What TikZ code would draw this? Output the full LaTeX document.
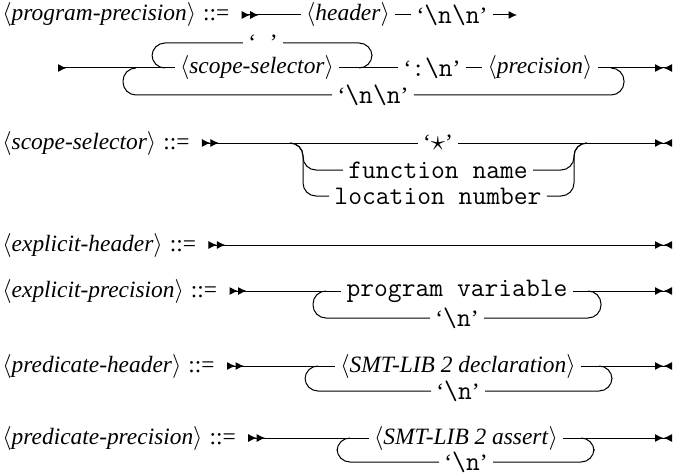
\documentclass[tikz,border=0pt]{standalone}
\usepackage{fontspec}
\setmainfont{Liberation Serif}
\usetikzlibrary{arrows.meta, positioning}

\newcommand{\railtt}{\fontsize{13.4}{16}\selectfont\ttfamily}
\newcommand{\nterm}[1]{$\langle$\textit{#1}$\rangle$}
\newcommand{\term}[1]{`{\railtt #1}'}
\newcommand{\defs}{\hspace{0.3em}::=}

\begin{document}
\begin{tikzpicture}[x=0.5pt, y=-0.5pt, font=\fontsize{11.7}{14}\selectfont]
\tikzstyle{lhs} = [anchor=west, inner sep=0pt]
\tikzstyle{sym} = [inner xsep=2.5pt, inner ysep=0pt]
\tikzstyle{word} = [sym, font=\railtt]
\tikzstyle{rail} = [draw, line width=0.5pt, rounded corners=6.5pt]
\tikzstyle{railin} = [rail, {Latex[reversed,length=4.25pt,width=4pt] Latex[reversed,length=4.25pt,width=4pt]}-]
\tikzstyle{railcont} = [rail, {Latex[reversed,length=4.25pt,width=4pt]}-]
\tikzstyle{railnext} = [rail, -{Latex[length=4.25pt,width=4pt]}]
\tikzstyle{railout} = [rail, -{Latex[length=4.25pt,width=4pt] Latex[reversed,length=4.25pt,width=4pt]}]
\tikzstyle{railthru} = [rail, {Latex[reversed,length=4.25pt,width=4pt] Latex[reversed,length=4.25pt,width=4pt]}-{Latex[length=4.25pt,width=4pt] Latex[reversed,length=4.25pt,width=4pt]}]

\useasboundingbox (0,0) rectangle (674,476);

% program-precision
\node [lhs] (pp) at (2,15) {\nterm{program-precision}\defs};
\coordinate [right=6pt of pp] (pp-in);
\node [sym] (hdr) at (348,15) {\nterm{header}};
\node [sym] (nn1) at (452,15) {\term{\textbackslash n\textbackslash n}};
\coordinate (pp-next) at (517,15);

\draw [railin] (pp-in) -- (hdr);
\draw [rail] (hdr) -- (nn1);
\draw [railnext] (nn1) -- (pp-next);

\coordinate (pp-cont) at (58,68);
\node [sym] (sp) at (263,43) {\term{\ }};
\node [sym] (ss) at (257,68) {\nterm{scope-selector}};
\node [sym] (cn) at (432,68) {\term{:\textbackslash n}};
\node [sym] (prec) at (540,68) {\nterm{precision}};
\node [sym] (nn2) at (373,95) {\term{\textbackslash n\textbackslash n}};
\coordinate (sp-l) at (152,68);
\coordinate (sp-r) at (372,68);
\coordinate (nn2-l) at (123,68);
\coordinate (nn2-r) at (624,68);
\coordinate (pp-out) at (672,68);

\draw [railcont] (pp-cont) -- (ss);
\draw [rail] (ss) -- (cn);
\draw [rail] (cn) -- (prec);
\draw [railout] (prec) -- (pp-out);
\draw [rail] ([xshift=6.5pt]sp-l) -- (sp-l) |- (sp);
\draw [rail] (sp) -| (sp-r) -- ([xshift=-6.5pt]sp-r);
\draw [rail] ([xshift=6.5pt]nn2-l) -- (nn2-l) |- (nn2);
\draw [rail] (nn2) -| (nn2-r) -- ([xshift=-6.5pt]nn2-r);

% scope-selector
\node [lhs] (ssr) at (2,143) {\nterm{scope-selector}\defs};
\coordinate [right=6pt of ssr] (ss-in);
\node [sym] (star) at (438,143) {\term{$\star$}};
\node [word] (fn) at (438,170) {function name};
\node [word] (loc) at (438,196) {location number};
\coordinate (alt-l) at (303,143);
\coordinate (alt-r) at (574,143);
\coordinate (ss-out) at (672,143);

\draw [railin] (ss-in) -- (star);
\draw [railout] (star) -- (ss-out);
\draw [rail] ([xshift=-6.5pt]alt-l) -- (alt-l) |- (fn);
\draw [rail] ([xshift=-6.5pt]alt-l) -- (alt-l) |- (loc);
\draw [rail] (fn) -| (alt-r) -- ([xshift=6.5pt]alt-r);
\draw [rail] (loc) -| (alt-r) -- ([xshift=6.5pt]alt-r);

% explicit-header
\node [lhs] (eh) at (2,245) {\nterm{explicit-header}\defs};
\coordinate [right=6pt of eh] (eh-in);
\coordinate (eh-out) at (672,245);

\draw [railthru] (eh-in) -- (eh-out);

% explicit-precision
\node [lhs] (ep) at (2,291) {\nterm{explicit-precision}\defs};
\coordinate [right=6pt of ep] (ep-in);
\node [word] (pv) at (457,291) {program variable};
\node [sym] (nl1) at (457,318) {\term{\textbackslash n}};
\coordinate (nl1-l) at (313,291);
\coordinate (nl1-r) at (601,291);
\coordinate (ep-out) at (672,291);

\draw [railin] (ep-in) -- (pv);
\draw [railout] (pv) -- (ep-out);
\draw [rail] ([xshift=6.5pt]nl1-l) -- (nl1-l) |- (nl1);
\draw [rail] (nl1) -| (nl1-r) -- ([xshift=-6.5pt]nl1-r);

% predicate-header
\node [lhs] (ph) at (2,366) {\nterm{predicate-header}\defs};
\coordinate [right=6pt of ph] (ph-in);
\node [sym] (decl) at (458,366) {\nterm{SMT-LIB 2 declaration}};
\node [sym] (nl2) at (458,391) {\term{\textbackslash n}};
\coordinate (nl2-l) at (305,366);
\coordinate (nl2-r) at (612,366);
\coordinate (ph-out) at (672,366);

\draw [railin] (ph-in) -- (decl);
\draw [railout] (decl) -- (ph-out);
\draw [rail] ([xshift=6.5pt]nl2-l) -- (nl2-l) |- (nl2);
\draw [rail] (nl2) -| (nl2-r) -- ([xshift=-6.5pt]nl2-r);

% predicate-precision
\node [lhs] (pr) at (2,438) {\nterm{predicate-precision}\defs};
\coordinate [right=6pt of pr] (pr-in);
\node [sym] (asrt) at (466,438) {\nterm{SMT-LIB 2 assert}};
\node [sym] (nl3) at (466,462) {\term{\textbackslash n}};
\coordinate (nl3-l) at (337,438);
\coordinate (nl3-r) at (594,438);
\coordinate (pr-out) at (672,438);

\draw [railin] (pr-in) -- (asrt);
\draw [railout] (asrt) -- (pr-out);
\draw [rail] ([xshift=6.5pt]nl3-l) -- (nl3-l) |- (nl3);
\draw [rail] (nl3) -| (nl3-r) -- ([xshift=-6.5pt]nl3-r);

\end{tikzpicture}
\end{document}
